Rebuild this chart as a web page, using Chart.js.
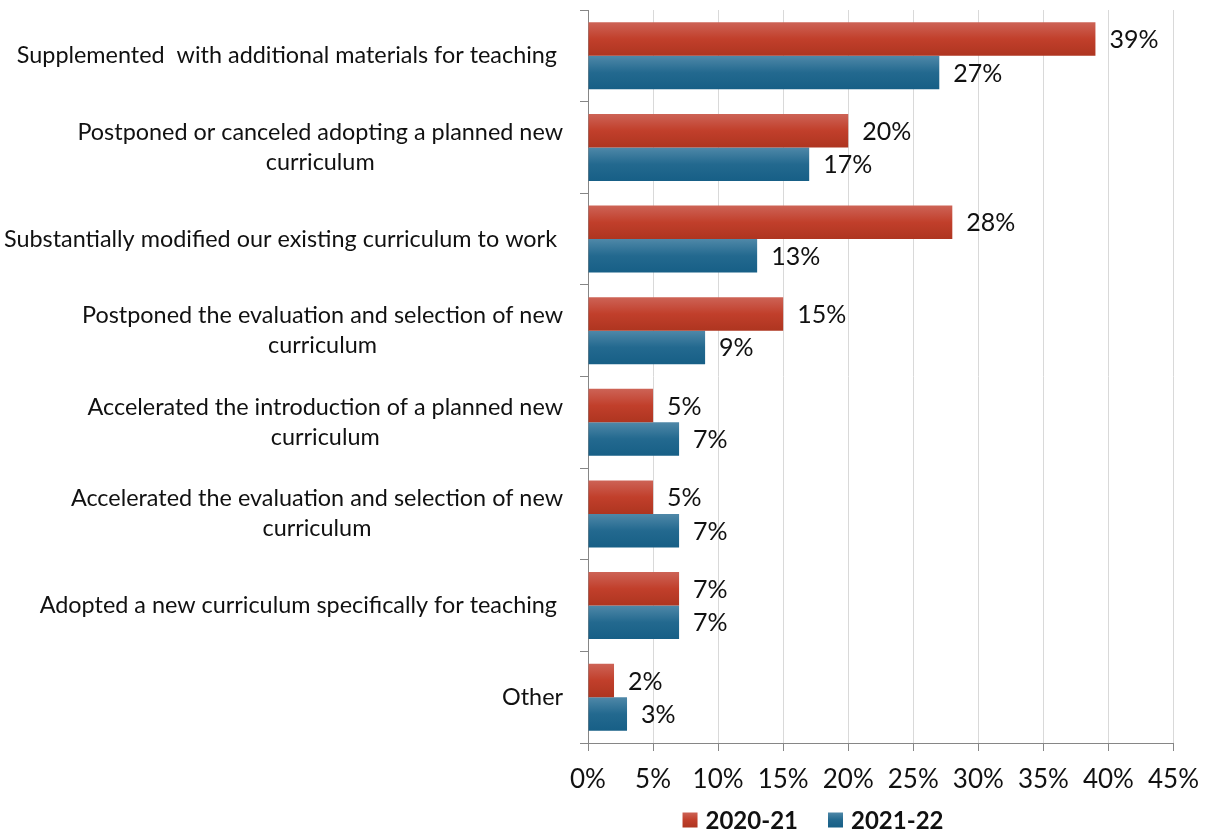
<!DOCTYPE html>
<html>
<head>
<meta charset="utf-8">
<script src="https://cdn.jsdelivr.net/npm/chart.js@4/dist/chart.umd.min.js"></script>
<style>
  html, body { margin: 0; padding: 0; background: #fff; }
  #wrap { width: 1212px; height: 833px; position: relative; }
</style>
</head>
<body>
<div id="wrap"><canvas id="c" width="1212" height="833"></canvas></div>
<script>
const categories = [
  ["Supplemented  with additional materials for teaching "],
  ["Postponed or canceled adopting a planned new", "curriculum"],
  ["Substantially modified our existing curriculum to work "],
  ["Postponed the evaluation and selection of new", "curriculum"],
  ["Accelerated the introduction of a planned new", "curriculum"],
  ["Accelerated the evaluation and selection of new", "curriculum"],
  ["Adopted a new curriculum specifically for teaching "],
  ["Other"]
];
const seriesNames = ["2020-21", "2021-22"];
const values2020 = [39, 20, 28, 15, 5, 5, 7, 2];
const values2021 = [27, 17, 13, 9, 7, 7, 7, 3];
const xTicks = [0, 5, 10, 15, 20, 25, 30, 35, 40, 45];

const FONT = "Lato, 'Open Sans', sans-serif";
const CAT_PCT = 0.73;
const gradStops = [
  ["#cd6356", "#c13f2b", "#ae3520"],
  ["#4f88a8", "#23698f", "#175f86"]
];

function barGradient(ctx, dsIndex) {
  const chart = ctx.chart;
  const y = chart.scales.y;
  const area = chart.chartArea;
  if (!area || !y) return gradStops[dsIndex][1];
  const center = y.getPixelForValue(ctx.dataIndex);
  const catSize = (area.bottom - area.top) / categories.length;
  const bt = catSize * CAT_PCT / 2;
  const y0 = dsIndex === 0 ? center - bt : center;
  const g = chart.ctx.createLinearGradient(0, y0, 0, y0 + bt);
  g.addColorStop(0, gradStops[dsIndex][0]);
  g.addColorStop(0.5, gradStops[dsIndex][1]);
  g.addColorStop(1, gradStops[dsIndex][2]);
  return g;
}

const customDraw = {
  id: 'customDraw',
  afterDraw(chart) {
    const ctx = chart.ctx;
    const yScale = chart.scales.y;
    ctx.save();
    // category labels
    ctx.font = "23.4px " + FONT;
    ctx.fillStyle = "#111";
    ctx.textAlign = "center";
    ctx.textBaseline = "middle";
    const right = yScale.right - 25;
    const lh = 30;
    categories.forEach((lines, i) => {
      const cy = yScale.getPixelForValue(i);
      const maxW = Math.max(...lines.map(l => ctx.measureText(l).width));
      const cx = right - maxW / 2;
      const startY = cy - (lines.length - 1) * lh / 2;
      lines.forEach((l, k) => ctx.fillText(l, cx, startY + k * lh));
    });
    // data labels
    ctx.font = "25px " + FONT;
    ctx.textAlign = "left";
    ctx.fillStyle = "#111";
    chart.data.datasets.forEach((ds, di) => {
      const meta = chart.getDatasetMeta(di);
      meta.data.forEach((bar, i) => {
        ctx.fillText(ds.data[i] + "%", bar.x + 14, bar.y + 1);
      });
    });
    // legend
    ctx.font = "bold 24px " + FONT;
    const box = 15, gapBox = 8, gapItem = 30;
    const widths = seriesNames.map(n => box + gapBox + ctx.measureText(n).width);
    const total = widths.reduce((a, b) => a + b, 0) + gapItem;
    let x = 813 - total / 2;
    const ly = 820;
    seriesNames.forEach((n, di) => {
      const g = ctx.createLinearGradient(0, ly - box / 2, 0, ly + box / 2);
      g.addColorStop(0, gradStops[di][0]);
      g.addColorStop(0.5, gradStops[di][1]);
      g.addColorStop(1, gradStops[di][2]);
      ctx.fillStyle = g;
      ctx.fillRect(x, ly - box / 2, box, box);
      ctx.fillStyle = "#111";
      ctx.textBaseline = "middle";
      ctx.fillText(n, x + box + gapBox, ly + 1);
      x += widths[di] + gapItem;
    });
    ctx.restore();
  }
};

new Chart(document.getElementById('c'), {
  type: 'bar',
  data: {
    labels: categories,
    datasets: [
      { label: seriesNames[0], data: values2020, backgroundColor: c => barGradient(c, 0),
        categoryPercentage: CAT_PCT, barPercentage: 1 },
      { label: seriesNames[1], data: values2021, backgroundColor: c => barGradient(c, 1),
        categoryPercentage: CAT_PCT, barPercentage: 1 }
    ]
  },
  options: {
    indexAxis: 'y',
    responsive: false,
    animation: false,
    layout: { padding: { top: 10, right: 37, bottom: 0, left: 0 } },
    plugins: { legend: { display: false }, tooltip: { enabled: false } },
    scales: {
      x: {
        min: 0, max: 45,
        afterBuildTicks: s => { s.ticks = xTicks.map(v => ({ value: v })); },
        afterFit: s => { s.height = 90; },
        grid: { color: '#d9d9d9', tickColor: '#868686', tickLength: 8, lineWidth: 1 },
        border: { color: '#868686' },
        ticks: { font: { size: 26, family: FONT }, color: '#111', padding: 13,
                 callback: v => v + '%', maxRotation: 0 }
      },
      y: {
        afterFit: s => { s.width = 588; },
        grid: { offset: true, drawOnChartArea: false, color: '#868686', tickLength: 8 },
        border: { color: '#868686' },
        ticks: { display: false }
      }
    }
  },
  plugins: [customDraw]
});
</script>
</body>
</html>
